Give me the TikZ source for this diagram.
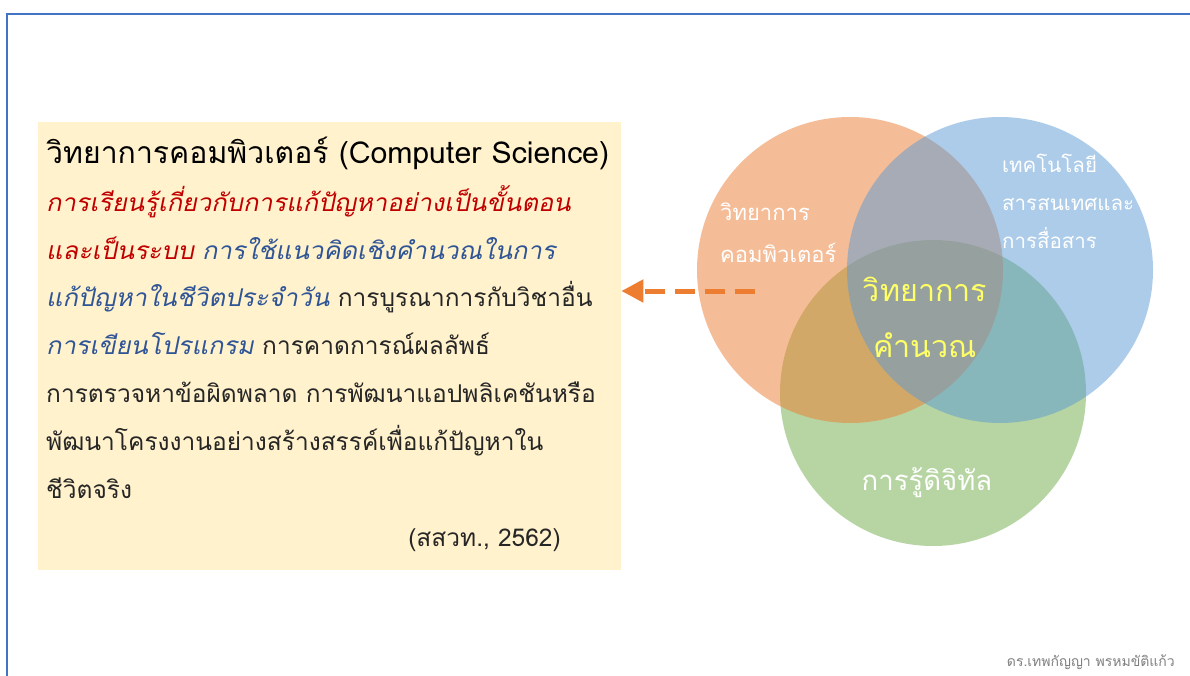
\documentclass[tikz,border=0pt]{standalone}
\usepackage{fontspec}
\setmainfont{Loma}[Script=Thai, AutoFakeSlant=0.2, ItalicFeatures={FakeStretch=1.04}]
\usetikzlibrary{arrows.meta}
\definecolor{frameblue}{HTML}{4472C4}
\definecolor{boxfill}{HTML}{FFF2CC}
\definecolor{corange}{HTML}{ED7D31}
\definecolor{cblue}{HTML}{5B9BD5}
\definecolor{cgreen}{HTML}{70AD47}
\definecolor{tred}{HTML}{C00000}
\definecolor{tblue}{HTML}{2F5597}
\definecolor{tdark}{HTML}{262626}
\definecolor{tyellow}{HTML}{FFFF66}
\definecolor{tgray}{HTML}{808080}
\begin{document}
\begin{tikzpicture}[x=1pt,y=-1pt,
  txtline/.style={anchor=base west, inner sep=0pt, font=\fontsize{24.5}{28}\selectfont, text=tdark},
  venn/.style={circle, minimum size=306pt, inner sep=0pt, fill opacity=0.5},
  vlab/.style={anchor=base west, inner sep=0pt, text=white, font=\fontsize{21}{24}\selectfont},
  clab/.style={anchor=base, inner sep=0pt, text=tyellow, font=\fontsize{30.5}{34}\selectfont},
  arrowdash/.style={corange, line width=5pt, dash pattern=on 20pt off 10pt, -{Triangle[length=22pt,width=22pt]}}]
\useasboundingbox (0,0) rectangle (1190,676);
\fill[white] (0,0) rectangle (1190,676);
% frame
\draw[frameblue, line width=2pt] (7,676) -- (7,14) -- (1190,14);
% text box
\node[fill=boxfill, minimum width=583pt, minimum height=448pt, anchor=north west, inner sep=0pt] (box) at (38,122) {};
\node[txtline, text=black, font=\fontsize{30.2}{34}\selectfont] (l1) at (46,164) {วิทยาการคอมพิวเตอร์ (Computer Science)};
\node[txtline] (l2) at (46,212) {\textcolor{tred}{\itshape การเรียนรู้เกี่ยวกับการแก้ปัญหาอย่างเป็นขั้นตอน}};
\node[txtline] (l3) at (46,259) {\textcolor{tred}{\itshape และเป็นระบบ} \textcolor{tblue}{\itshape การใช้แนวคิดเชิงคำนวณในการ}};
\node[txtline] (l4) at (46,306) {\textcolor{tblue}{\itshape แก้ปัญหาในชีวิตประจำวัน} การบูรณาการกับวิชาอื่น};
\node[txtline] (l5) at (46,354) {\textcolor{tblue}{\itshape การเขียนโปรแกรม} การคาดการณ์ผลลัพธ์};
\node[txtline] (l6) at (46,402) {การตรวจหาข้อผิดพลาด การพัฒนาแอปพลิเคชันหรือ};
\node[txtline] (l7) at (46,450) {พัฒนาโครงงานอย่างสร้างสรรค์เพื่อแก้ปัญหาใน};
\node[txtline] (l8) at (46,498) {ชีวิตจริง};
\node[txtline, anchor=base east] (cite) at (561,546) {(สสวท., 2562)};
% venn circles
\node[venn, fill=cgreen] (cg) at (933,393) {};
\node[venn, fill=corange] (co) at (850,270) {};
\node[venn, fill=cblue] (cb) at (1000,270) {};
% labels
\node[vlab, font=\fontsize{22}{25}\selectfont] (o1) at (720,221) {วิทยาการ};
\node[vlab, font=\fontsize{22}{25}\selectfont] (o2) at (720,262) {คอมพิวเตอร์};
\node[vlab, font=\fontsize{20.5}{24}\selectfont] (b1) at (1002,173) {เทคโนโลยี};
\node[vlab, font=\fontsize{20.5}{24}\selectfont] (b2) at (1002,211) {สารสนเทศและ};
\node[vlab, font=\fontsize{20.5}{24}\selectfont] (b3) at (1002,248) {การสื่อสาร};
\node[clab] (c1) at (925,301) {วิทยาการ};
\node[clab] (c2) at (925,357) {คำนวณ};
\node[vlab, anchor=base, font=\fontsize{27.5}{31}\selectfont] (g1) at (927,490) {การรู้ดิจิทัล};
% arrow
\coordinate (astart) at (755,291);
\draw[arrowdash] (astart) -- (box.east |- astart);
% footer
\node[anchor=base east, inner sep=0pt, text=tgray, font=\fontsize{14}{16}\selectfont] (foot) at (1175,666) {ดร.เทพกัญญา พรหมขัติแก้ว};
\end{tikzpicture}
\end{document}
